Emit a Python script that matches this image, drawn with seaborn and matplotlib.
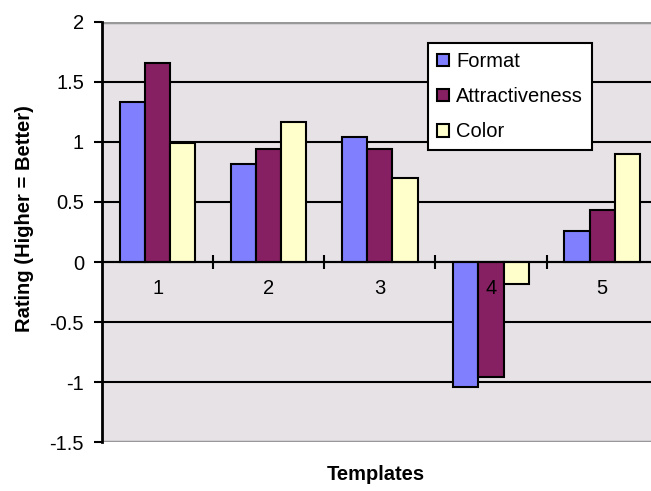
import matplotlib
matplotlib.use("Agg")
import matplotlib.pyplot as plt
import seaborn as sns
import pandas as pd
import numpy as np

templates = ["1", "2", "3", "4", "5"]
format_vals = [1.33, 0.82, 1.04, -1.04, 0.26]
attract_vals = [1.655, 0.945, 0.945, -0.96, 0.43]
color_vals = [0.99, 1.165, 0.70, -0.18, 0.90]
series = ["Format", "Attractiveness", "Color"]
palette = ["#8080FF", "#862062", "#FFFFCC"]
yticks = [-1.5, -1, -0.5, 0, 0.5, 1, 1.5, 2]
ytick_labels = ["-1.5", "-1", "-0.5", "0", "0.5", "1", "1.5", "2"]

rows = []
for s, vals in zip(series, [format_vals, attract_vals, color_vals]):
    for t, v in zip(templates, vals):
        rows.append({"Template": t, "Series": s, "Value": v})
df = pd.DataFrame(rows)

sns.set_theme(style="white")
plt.rcParams["font.family"] = ["Liberation Sans", "DejaVu Sans"]
plt.rcParams["text.color"] = "black"
plt.rcParams["xtick.labelcolor"] = "black"
plt.rcParams["ytick.labelcolor"] = "black"
FS = 14.5

fig = plt.figure(figsize=(6.51, 4.91), dpi=100)
W, H = 651, 491
ax = fig.add_axes([102 / W, (H - 442) / H, (651 - 102) / W, (442 - 22) / H])
ax.set_facecolor("#E6E2E6")

sns.barplot(data=df, x="Template", y="Value", hue="Series", hue_order=series,
            palette=palette, width=0.68, edgecolor="black", linewidth=1.5,
            saturation=1, ax=ax, legend=True)

ax.set_ylim(-1.5, 2)
ax.set_xlim(-0.5, 4.44)
ax.set_yticks(yticks)
ax.set_yticklabels(ytick_labels, fontsize=FS, color="black")
ax.yaxis.grid(True, color="black", linewidth=1.5)
ax.set_axisbelow(True)
ax.xaxis.set_zorder(3)
for gl, v in zip(ax.yaxis.get_gridlines(), yticks):
    if v in (-1.5, 2):
        gl.set_color("#999999")
        gl.set_linewidth(2.5)

ax.tick_params(axis="y", direction="out", length=6, width=1.5, color="black",
               left=True, pad=7)

# category boundaries as major ticks on zero line, labels as minor ticks
ax.spines["bottom"].set_position(("data", 0))
ax.spines["bottom"].set_linewidth(1.5)
ax.spines["bottom"].set_color("black")
ax.set_xticks([0.5, 1.5, 2.5, 3.5])
ax.set_xticklabels([])
ax.set_xticks(range(len(templates)), minor=True)
ax.set_xticklabels(templates, minor=True, fontsize=FS, color="black")
ax.tick_params(axis="x", which="major", direction="inout", length=10, width=1.5,
               color="black", bottom=True)
ax.tick_params(axis="x", which="minor", length=0, pad=12.5, bottom=True)

ax.spines["left"].set_linewidth(2)
ax.spines["left"].set_color("black")
ax.spines["top"].set_visible(False)
ax.spines["right"].set_visible(False)

ax.set_xlabel("")
ax.set_ylabel("")
fig.text(25 / W, 1 - 219 / H, "Rating (Higher = Better)", rotation=90,
         ha="center", va="center", fontsize=FS, fontweight="bold", color="black")
fig.text(376 / W, 1 - 474 / H, "Templates", ha="center", va="center",
         fontsize=FS, fontweight="bold", color="black")

leg = ax.legend(loc="upper left", bbox_to_anchor=(0.594, 0.95), frameon=True,
                fontsize=FS, handlelength=0.6, handleheight=0.6,
                labelspacing=0.8, handletextpad=0.35, borderpad=0.45,
                borderaxespad=0, fancybox=False)
leg.get_frame().set_edgecolor("black")
leg.get_frame().set_linewidth(1.5)
leg.get_frame().set_facecolor("white")
leg.get_frame().set_alpha(1)
for t in leg.get_texts():
    t.set_color("black")

fig.savefig("out.png", dpi=100)
